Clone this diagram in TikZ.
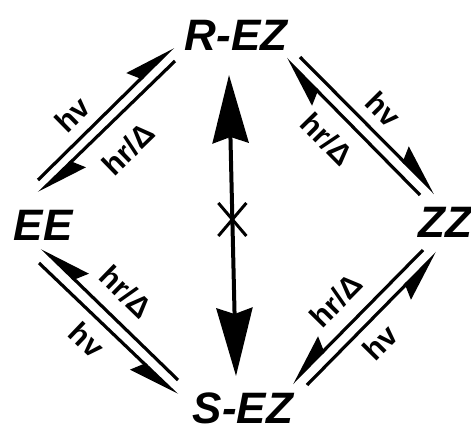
\documentclass[tikz,border=0pt]{standalone}
\usepackage{fontspec}
\setmainfont{Liberation Sans}
\usetikzlibrary{arrows.meta, shapes.misc}

\tikzset{
  isomer/.style={font=\fontsize{22}{22}\selectfont\bfseries\itshape, inner sep=0pt},
  cond/.style={font=\fontsize{15}{15}\selectfont\bfseries, inner sep=0pt, sloped},
  harp/.style={line width=1.6pt, -{Stealth[harpoon, length=23pt, width=14pt, inset=3pt]}},
  harpsw/.style={line width=1.6pt, -{Stealth[harpoon, swap, length=23pt, width=14pt, inset=3pt]}},
  bigarrow/.style={line width=2pt, {Stealth[length=34pt, width=18pt, inset=3pt]}-{Stealth[length=34pt, width=18pt, inset=3pt]}}
}

\begin{document}
\begin{tikzpicture}[x=0.5pt, y=-0.5pt]
  \useasboundingbox (0,0) rectangle (471,428);

  \node[isomer] (REZ) at (236,35) {R-EZ};
  \node[isomer] (EE) at (43,225) {EE};
  \node[isomer] (ZZ) at (445,222) {ZZ};
  \node[isomer] (SEZ) at (243,408) {S-EZ};

  \draw[harp] ([shift={(-5,-45)}]EE.center) -- ([shift={(-63,12)}]REZ.center) node[cond, pos=.37, above=5pt] (hvA) {hv};
  \draw[harp] ([shift={(-61,26)}]REZ.center) -- ([shift={(-4,-32)}]EE.center) node[cond, pos=.5, below=9pt] (hrA) {hr/Δ};

  \draw[harp] ([shift={(64,22)}]REZ.center) -- ([shift={(-10,-29)}]ZZ.center) node[cond, pos=.5, above=5pt] (hvB) {hv};
  \draw[harp] ([shift={(-25,-27)}]ZZ.center) -- ([shift={(50,24)}]REZ.center) node[cond, pos=.55, below=7pt] (hrB) {hr/Δ};

  \draw[harpsw] ([shift={(-65,-28)}]SEZ.center) -- ([shift={(-1,23)}]EE.center) node[cond, pos=.52, above=7pt] (hrC) {hr/Δ};
  \draw[harpsw] ([shift={(-4,38)}]EE.center) -- ([shift={(-66,-13)}]SEZ.center) node[cond, pos=.46, below=5pt] (hvC) {hv};

  \draw[harpsw] ([shift={(-22,28)}]ZZ.center) -- ([shift={(49,-25)}]SEZ.center) node[cond, pos=.52, above=7pt] (hrD) {hr/Δ};
  \draw[harpsw] ([shift={(64,-23)}]SEZ.center) -- ([shift={(-8,31)}]ZZ.center) node[cond, pos=.44, below=5pt] (hvD) {hv};

  \draw[bigarrow] ([shift={(-7,40)}]REZ.center) -- ([shift={(-7,-32)}]SEZ.center)
    node[pos=.48, cross out, draw, line width=1.5pt, minimum width=12.5pt, minimum height=15pt, inner sep=0pt] (block) {};
\end{tikzpicture}
\end{document}
